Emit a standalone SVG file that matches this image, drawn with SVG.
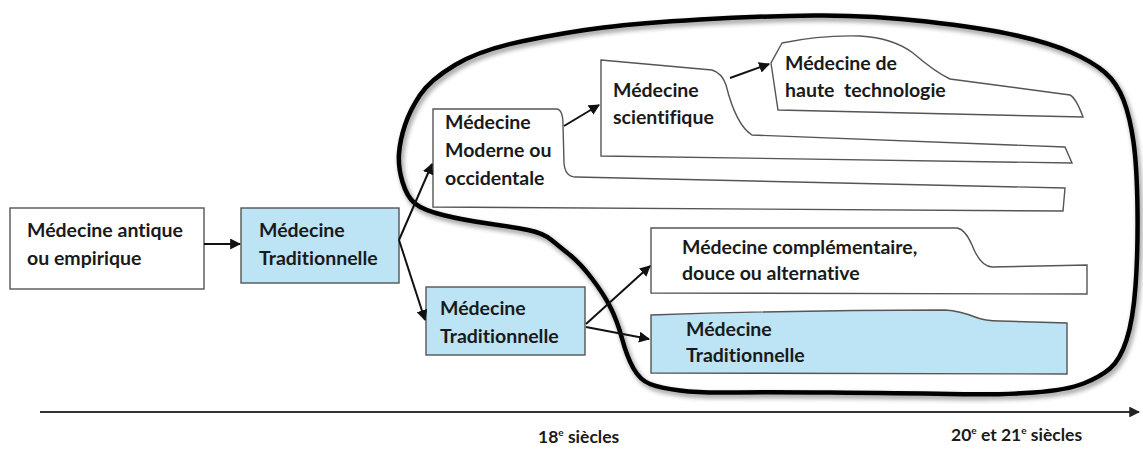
<svg xmlns="http://www.w3.org/2000/svg" width="1143" height="455" viewBox="0 0 1143 455">
<style>
.box{fill:#ffffff;stroke:#555555;stroke-width:1.4}
.blue{fill:#bce4f4;stroke:#555555;stroke-width:1.4}
.t{font-family:Lato,"Open Sans","Liberation Sans",sans-serif;font-weight:700;font-size:19.5px;fill:#1a1a1a;white-space:pre;font-variant-ligatures:none}
.ax{font-family:Lato,"Liberation Sans",sans-serif;font-weight:700;font-size:17.5px;fill:#1a1a1a;font-variant-ligatures:none}
.c{fill:none;stroke:#111111;stroke-width:2;marker-end:url(#ah)}
.loop{fill:none;stroke:#000000;stroke-width:4.5;stroke-linejoin:round}
</style>
<defs>
<marker id="ah" viewBox="0 0 10 10" refX="9" refY="5" markerWidth="5.5" markerHeight="5.5" orient="auto" markerUnits="strokeWidth">
<path d="M0,0 L10,5 L0,10 z" fill="#111111"/>
</marker>
<marker id="axh" viewBox="0 0 10 10" refX="9" refY="5" markerWidth="6" markerHeight="6" orient="auto" markerUnits="strokeWidth">
<path d="M0,0 L10,5 L0,10 z" fill="#222222"/>
</marker>
<filter id="sh" x="-10%" y="-10%" width="120%" height="120%">
<feGaussianBlur stdDeviation="2.5"/>
</filter>
</defs>
<rect width="1143" height="455" fill="#ffffff"/>

<g id="loop-shadow" transform="translate(2,3)" opacity="0.45">
<path class="loop" filter="url(#sh)" stroke="#777777" stroke-width="7" d="M 399,153.5 Q 400,140 405,125 Q 410,110 420,95 Q 430,80 455,65 Q 480,50 523.5,41 Q 567,32 603.5,27.5 Q 640,23 700,19.5 Q 760,16 815,15.5 Q 870,15 926.5,21.5 Q 983,28 1016.5,35.5 Q 1050,43 1071.5,52.5 Q 1093,62 1105,72.5 Q 1117,83 1123.5,100 Q 1130,117 1133.5,142 Q 1137,167 1137.5,210 Q 1138,253 1135.5,286.5 Q 1133,320 1126.5,340 Q 1120,360 1110,368.5 Q 1100,377 1083.5,383.5 Q 1067,390 1033.5,392.5 Q 1000,395 950,394 Q 900,393 830,392.5 Q 760,392 730,392.5 Q 700,393 680,390.5 Q 660,388 650,384 Q 640,380 633.5,368.5 Q 627,357 622,338.5 Q 617,320 610,306.5 Q 603,293 591.5,278 Q 580,263 570,255 Q 560,247 551.5,240 Q 543,233 528,230 Q 513,227 488,223.5 Q 463,220 443,215 Q 423,210 415,203.5 Q 407,197 402.5,182 Q 398,167 399,153.5 Z"/>
</g>

<g id="n-moderne">
<path class="box" d="M433,109 L557,109 Q563,110 563,125 L564,163 Q565,177 576,177 L1065,188 L1063,211 L433,207 Z"/>
<text class="t" x="445" y="129">Médecine</text>
<text class="t" x="445" y="157">Moderne ou</text>
<text class="t" x="445" y="185">occidentale</text>
</g>

<g id="n-scientifique">
<path class="box" d="M601,60 L712,70 Q722,73 726,85 Q736,125 752,135 L1065,147 L1072,163 L601,156 Z"/>
<text class="t" x="613" y="97">Médecine</text>
<text class="t" x="613" y="124">scientifique</text>
</g>

<g id="n-haute">
<path class="box" d="M782,43 Q820,35 860,36 Q893,38 913,53 Q935,72 950,79 L1070,95 Q1076,98 1083,117 L778,110 L771,63 Z"/>
<text class="t" x="785" y="70">Médecine de</text>
<text class="t" x="785" y="97">haute  technologie</text>
</g>

<g id="n-antique">
<rect class="box" x="10" y="208" width="194" height="81"/>
<text class="t" x="27" y="237">Médecine antique</text>
<text class="t" x="27" y="265">ou empirique</text>
</g>

<g id="n-trad1">
<rect class="blue" x="241" y="208" width="158" height="75"/>
<text class="t" x="259" y="237">Médecine</text>
<text class="t" x="259" y="265">Traditionnelle</text>
</g>

<g id="n-trad2">
<rect class="blue" x="426" y="287" width="159" height="68"/>
<text class="t" x="440" y="315">Médecine</text>
<text class="t" x="440" y="343">Traditionnelle</text>
</g>

<g id="n-complementaire">
<path class="box" d="M651,228 L957,228 Q965,229 972,245 Q980,266 992,267 L1087,265 L1087,294 L651,293 Z"/>
<text class="t" x="682" y="254">Médecine complémentaire,</text>
<text class="t" x="682" y="280">douce ou alternative</text>
</g>

<g id="n-trad3">
<path class="blue" d="M651,315 Q800,310 945,310 Q960,311 975,317 Q985,321 1000,321 L1067,323 L1067,374 L651,373 Z"/>
<text class="t" x="686" y="336">Médecine</text>
<text class="t" x="686" y="362">Traditionnelle</text>
</g>

<g id="loop">
<path class="loop" d="M 399,153.5 Q 400,140 405,125 Q 410,110 420,95 Q 430,80 455,65 Q 480,50 523.5,41 Q 567,32 603.5,27.5 Q 640,23 700,19.5 Q 760,16 815,15.5 Q 870,15 926.5,21.5 Q 983,28 1016.5,35.5 Q 1050,43 1071.5,52.5 Q 1093,62 1105,72.5 Q 1117,83 1123.5,100 Q 1130,117 1133.5,142 Q 1137,167 1137.5,210 Q 1138,253 1135.5,286.5 Q 1133,320 1126.5,340 Q 1120,360 1110,368.5 Q 1100,377 1083.5,383.5 Q 1067,390 1033.5,392.5 Q 1000,395 950,394 Q 900,393 830,392.5 Q 760,392 730,392.5 Q 700,393 680,390.5 Q 660,388 650,384 Q 640,380 633.5,368.5 Q 627,357 622,338.5 Q 617,320 610,306.5 Q 603,293 591.5,278 Q 580,263 570,255 Q 560,247 551.5,240 Q 543,233 528,230 Q 513,227 488,223.5 Q 463,220 443,215 Q 423,210 415,203.5 Q 407,197 402.5,182 Q 398,167 399,153.5 Z"/>
</g>

<g id="connectors">
<line class="c" x1="204" y1="244" x2="240" y2="244"/>
<line class="c" x1="399" y1="240" x2="432" y2="164"/>
<line class="c" x1="399" y1="240" x2="425" y2="320"/>
<line class="c" x1="564" y1="126" x2="599" y2="105"/>
<line class="c" x1="730" y1="78" x2="769" y2="64"/>
<line class="c" x1="586" y1="324" x2="650" y2="266"/>
<line class="c" x1="586" y1="327" x2="649" y2="339"/>
</g>

<g id="axis">
<line x1="40" y1="412" x2="1139" y2="412" stroke="#333333" stroke-width="1.8" marker-end="url(#axh)"/>
<text class="ax" x="538" y="443">18<tspan dy="-7" font-size="10">e</tspan><tspan dy="7"> siècles</tspan></text>
<text class="ax" x="951" y="441">20<tspan dy="-7" font-size="10">e</tspan><tspan dy="7"> et 21</tspan><tspan dy="-7" font-size="10">e</tspan><tspan dy="7"> siècles</tspan></text>
</g>
</svg>
